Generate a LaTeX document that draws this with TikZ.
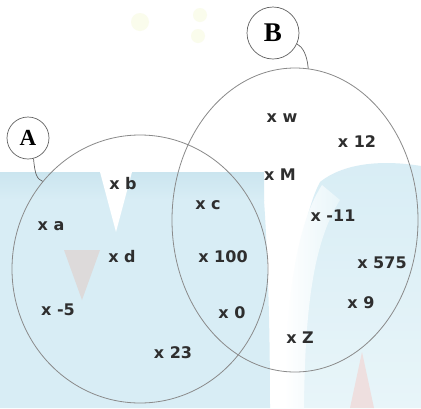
\documentclass[tikz,border=0pt]{standalone}
\usepackage{fontspec}
\setsansfont{DejaVu Sans}
\newfontfamily\tagfont{Liberation Serif}
\usepackage{tikz}
\usetikzlibrary{shapes.geometric}
\definecolor{Ink}{HTML}{2E2E2E}
\definecolor{Rim}{HTML}{8A8A8A}
\definecolor{Sky}{HTML}{D8EDF5}
\definecolor{DeepSky}{HTML}{CBE5EF}
\definecolor{PaleSky}{HTML}{E8F5F9}
\definecolor{Rock}{HTML}{DDDADA}
\definecolor{Blush}{HTML}{EEDFDF}
\definecolor{Glow}{HTML}{FAFCEC}

\begin{document}
\begin{tikzpicture}[x=1pt, y=-1pt]
\tikzset{elem/.style={font=\sffamily\bfseries\fontsize{16}{16}\selectfont, text=Ink, inner sep=0pt, text height=11.6pt, text depth=0pt}, setrim/.style={ellipse, draw=Rim, line width=0.8pt, inner sep=0pt}, tag/.style={circle, draw=Rim!70!black, line width=0.7pt, inner sep=0pt, text=black}, hook/.style={draw=Rim!70!black, line width=0.7pt}}
\useasboundingbox (0,0) rectangle (421,408);
% backdrop
\fill[white] (0,0) rectangle (421,408);
\fill[Glow] (140,22) circle (9);
\fill[Glow] (200,15) circle (7) (198,36) circle (7);
\shade[top color=DeepSky, bottom color=Sky] (0,172) rectangle (264,200);
\fill[Sky] (0,200) -- (264,200) .. controls (268,260) and (270,330) .. (270,408) -- (0,408) -- cycle;
\shade[top color=Sky, bottom color=PaleSky] (320,182) .. controls (345,162) and (385,160) .. (421,166) -- (421,408) -- (290,408) .. controls (292,300) and (300,220) .. (320,182) -- cycle;
\shade[left color=white, right color=PaleSky] (284,408) .. controls (286,300) and (296,225) .. (322,185) -- (340,200) .. controls (315,240) and (305,300) .. (304,408) -- cycle;
\fill[white] (100,172) -- (132,172) -- (116,232) -- cycle;
\fill[Rock] (64,250) -- (100,250) -- (82,300) -- cycle;
\fill[Blush] (362,352) -- (350,408) -- (374,408) -- cycle;
% sets
\node[setrim, minimum width=256pt, minimum height=268pt] (setA) at (140,269) {};
\node[setrim, minimum width=246pt, minimum height=304pt] (setB) at (295,220) {};
\node[tag, minimum size=42pt, font=\tagfont\bfseries\fontsize{23}{23}\selectfont] (labA) at (28,138) {A};
\node[tag, minimum size=52pt, font=\tagfont\bfseries\fontsize{27}{27}\selectfont] (labB) at (273,33) {B};
\draw[hook] (labA.-75) .. controls (35,175) and (37,179) .. (setA.138);
\draw[hook] (labB.-25) .. controls (303,47) and (307,55) .. (setB.85);
% elements
\foreach \nm/\px/\py/\txt in {w/282/117/w, 12/357/142/12, M/280/175/M, b/123/184/b, c/208/204/c, a/51/225/a, m11/333/216/-11, d/122/257/d, 100/223/257/100, 575/382/263/575, 9/361/303/9, m5/58/310/-5, 0/232/313/0, Z/300/338/Z, 23/173/353/23}
  \node[elem] (e\nm) at (\px,\py) {x \txt};
\end{tikzpicture}
\end{document}
